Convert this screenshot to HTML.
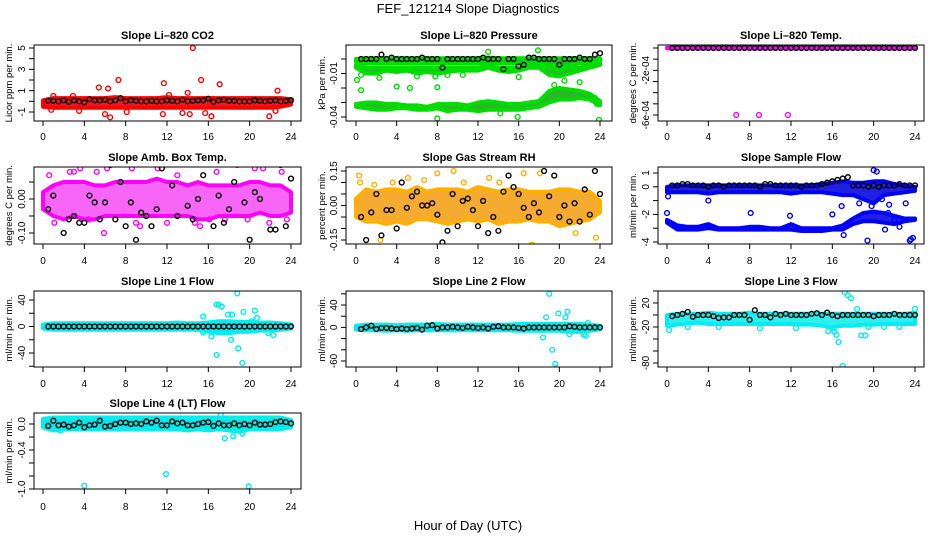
<!DOCTYPE html>
<html><head><meta charset="utf-8">
<style>
html,body{margin:0;padding:0;background:#fff;}
svg{display:block;font-family:"Liberation Sans",Arial,sans-serif;}
</style></head>
<body>
<svg id="chart" width="936" height="540" viewBox="0 0 936 540">
<text x="468" y="13" text-anchor="middle" font-size="13">FEF_121214  Slope Diagnostics</text>
<text x="468" y="530" text-anchor="middle" font-size="13">Hour of Day (UTC)</text>
</svg>
<script>
// ---------- data ----------
const bandHours = [0,1,2,3,4,5,6,7,8,9,10,11,12,13,14,15,16,17,18,19,20,21,22,23,24];

const co2Lo = [-0.5,-0.6,-0.6,-0.6,-0.6,-0.6,-0.6,-0.6,-0.6,-0.6,-0.6,-0.6,-0.6,-0.6,-0.6,-0.6,-0.6,-0.6,-0.6,-0.6,-0.6,-0.6,-0.6,-0.5,-0.3];
const co2Hi = [0.1,0.3,0.3,0.3,0.3,0.3,0.3,0.4,0.3,0.3,0.3,0.3,0.4,0.3,0.3,0.3,0.3,0.3,0.3,0.3,0.3,0.3,0.3,0.3,0.2];
const co2OutH = [5.4,6.3,7.3,11.7,14.5,15.3,17.1,22.7,6.0,6.5,11.6,16.3,21.9,22.5,14.2,8.1,1.0,2.9,14.0,15.7,13.5,12.2,0.8,3.5];
const co2OutV = [1.3,1.2,2.0,1.7,5.0,2.0,1.6,1.0,-1.2,-1.5,-1.2,-1.4,-1.4,-0.9,-1.2,-1.0,0.5,0.5,0.8,-1.1,-1.1,0.6,-0.8,-0.9];
const co2Black = [0.05,0.05,0.0,0.1,-0.05,0.1,0.0,-0.1,0.2,0.1,0.1,0.15,0.0,0.1,0.3,0.0,0.1,0.05,0.0,0.0,0.05,0.0,0.0,0.1,0.05,0.0,0.15,0.0,0.05,0.1,0.1,0.25,-0.05,0.1,0.15,0.05,0.05,0.0,0.0,0.0,0.1,0.05,0.0,0.05,0.1,0.0,0.05,0.1];

const presLo = [-0.002,-0.003,-0.003,-0.003,-0.003,-0.003,-0.003,-0.003,-0.003,-0.003,-0.003,-0.003,-0.003,-0.003,-0.003,-0.003,-0.003,-0.003,-0.003,-0.004,-0.005,-0.004,-0.003,-0.003,-0.002];
const presHi = [0.0,0.0005,0.0005,0.0005,0.0005,0.0005,0.0005,0.0005,0.0005,0.0005,0.0005,0.0005,0.0005,0.001,0.0005,0.0005,0.0005,0.0005,0.0005,0.0005,0.0005,0.0005,0.0005,0.0005,0.0005];
const presMidLo = [-0.006,-0.010,-0.010,-0.008,-0.009,-0.008,-0.010,-0.009,-0.010,-0.009,-0.008,-0.008,-0.008,-0.006,-0.008,-0.009,-0.008,-0.006,-0.006,-0.011,-0.012,-0.010,-0.008,-0.006,-0.004];
const presMidHi = [-0.004,-0.006,-0.006,-0.006,-0.006,-0.006,-0.006,-0.006,-0.006,-0.006,-0.006,-0.006,-0.006,-0.005,-0.006,-0.006,-0.006,-0.005,-0.005,-0.006,-0.007,-0.006,-0.006,-0.005,-0.003];
const pres2Lo = [-0.033,-0.034,-0.035,-0.035,-0.034,-0.034,-0.035,-0.035,-0.034,-0.036,-0.035,-0.035,-0.036,-0.035,-0.035,-0.035,-0.035,-0.034,-0.033,-0.030,-0.028,-0.028,-0.027,-0.028,-0.032];
const pres2Hi = [-0.031,-0.030,-0.030,-0.031,-0.031,-0.032,-0.032,-0.033,-0.031,-0.031,-0.031,-0.032,-0.030,-0.029,-0.030,-0.031,-0.031,-0.030,-0.029,-0.022,-0.020,-0.021,-0.022,-0.024,-0.029];
const presOutH = [0.1,0.5,0.5,2.3,8.0,8.0,14.2,15.9,23.9,17.9,4.0,5.3,7.8,11.8,13.0,19.5,20.5,22.0,23.5,23.7,16.0,9.0,6.0,10.5];
const presOutV = [-0.0145,-0.0215,-0.011,-0.013,-0.0195,-0.041,-0.0375,-0.040,-0.042,0.006,-0.019,-0.020,-0.012,-0.002,0.005,-0.018,-0.015,-0.016,-0.027,-0.031,-0.0125,-0.011,-0.012,-0.011];
const presBlack = [0.0,0.0,0.0,0.0,0.003,0.0,0.001,0.0,0.0,0.0,0.0,0.0,0.001,0.0,0.0,0.0,-0.006,0.0,0.0,0.0,0.0,0.0,0.0,0.0,0.001,0.0,0.0,0.0,-0.007,0.0,0.0,-0.005,-0.004,0.001,0.001,0.0,0.0,0.0,0.0,-0.004,0.0,0.0,0.0,0.001,0.0,0.0,0.003,0.004];

const tempLo = [-0.000002,-0.000002,-0.000002,-0.000002,-0.000002,-0.000002,-0.000002,-0.000002,-0.000002,-0.000002,-0.000002,-0.000002,-0.000002,-0.000002,-0.000002,-0.000002,-0.000002,-0.000002,-0.000002,-0.000002,-0.000002,-0.000002,-0.000002,-0.000002,-0.000002];
const tempHi = [0.000002,0.000002,0.000002,0.000002,0.000002,0.000002,0.000002,0.000002,0.000002,0.000002,0.000002,0.000002,0.000002,0.000002,0.000002,0.000002,0.000002,0.000002,0.000002,0.000002,0.000002,0.000002,0.000002,0.000002,0.000002];
const tempOutH = [6.7,8.9,11.7];
const tempOutV = [-0.0006,-0.0006,-0.0006];
const tempBlack = [0,0,0,0,0,0,0,0,0,0,0,0,0,0,0,0,0,0,0,0,0,0,0,0,0,0,0,0,0,0,0,0,0,0,0,0,0,0,0,0,0,0,0,0,0,0,0,0];

const ambLo = [-0.03,-0.05,-0.06,-0.05,-0.06,-0.06,-0.05,-0.05,-0.05,-0.05,-0.05,-0.05,-0.05,-0.05,-0.05,-0.06,-0.06,-0.05,-0.05,-0.05,-0.05,-0.04,-0.05,-0.05,-0.04];
const ambHi = [0.02,0.04,0.05,0.05,0.05,0.04,0.04,0.05,0.05,0.05,0.05,0.06,0.05,0.05,0.04,0.05,0.04,0.04,0.04,0.04,0.05,0.05,0.04,0.04,0.02];
const ambOutH = [0.1,0.9,1.7,1.1,3.0,4.4,5.9,6.2,7.2,8.6,9.4,10.0,11.1,13.5,14.7,15.2,16.1,18.8,20.5,21.9,23.1,22.5,2.6,12.0,17.6,19.8,0.6,3.6,5.2,9.0,13.0,16.8,21.3,23.6];
const ambOutV = [-0.14,0.12,0.11,-0.07,0.08,-0.06,-0.1,0.09,0.12,0.09,-0.08,0.12,0.09,0.12,-0.07,-0.08,-0.06,0.1,0.09,-0.07,0.08,0.11,0.08,-0.07,-0.06,-0.06,0.07,0.09,0.08,-0.07,0.07,0.08,0.09,-0.06];
const ambBlack = [-0.03,0.01,0.12,-0.1,-0.06,-0.05,-0.07,-0.07,0.01,-0.01,-0.06,-0.01,0.1,-0.06,0.05,-0.08,-0.01,-0.12,-0.04,-0.05,-0.08,-0.03,0.09,0.11,0.04,-0.05,0.11,-0.02,-0.06,0.0,0.07,-0.14,-0.08,0.01,-0.07,-0.03,0.05,0.11,-0.01,-0.12,0.02,0.0,0.11,-0.09,-0.09,0.1,-0.08,0.06];

const rhLo = [-0.05,-0.07,-0.07,-0.08,-0.07,-0.08,-0.06,-0.06,-0.07,-0.08,-0.07,-0.06,-0.07,-0.06,-0.08,-0.07,-0.07,-0.06,-0.07,-0.07,-0.09,-0.08,-0.07,-0.06,-0.03];
const rhHi = [0.03,0.07,0.06,0.07,0.07,0.06,0.08,0.06,0.07,0.07,0.07,0.06,0.08,0.07,0.06,0.07,0.07,0.06,0.06,0.06,0.07,0.07,0.06,0.06,0.02];
const rhOutH = [0.3,0.4,2.4,5.1,8.0,9.6,13.1,16.5,17.3,18.1,20.4,23.6,1.8,3.6,6.7,10.6,14.1,21.6];
const rhOutV = [0.13,0.1,-0.15,0.12,0.14,0.15,0.12,0.14,-0.17,0.14,-0.2,-0.14,0.09,0.1,0.11,0.1,0.1,-0.12];
const rhBlack = [-0.05,-0.15,-0.03,0.05,-0.13,-0.02,-0.02,-0.1,0.1,-0.01,0.04,0.06,0.0,0.0,0.01,-0.04,-0.16,-0.11,0.05,-0.09,0.02,0.03,-0.02,-0.09,0.02,-0.12,-0.05,-0.11,0.06,0.13,0.08,0.05,-0.01,-0.05,0.01,-0.03,0.15,0.04,0.13,-0.05,0.0,-0.07,0.01,-0.07,0.07,-0.04,0.15,0.05];

const flowLo = [-0.4,-0.4,-0.4,-0.4,-0.5,-0.4,-0.4,-0.4,-0.4,-0.4,-0.4,-0.4,-0.5,-0.4,-0.4,-0.4,-0.5,-0.6,-0.6,-0.9,-1.2,-0.6,-0.5,-0.4,-0.3];
const flowHi = [0.0,0.1,0.1,0.1,0.1,0.1,0.1,0.1,0.1,0.1,0.1,0.1,0.1,0.1,0.1,0.2,0.3,0.4,0.3,0.3,0.4,0.4,0.2,0.1,0.0];
const flow2Lo = [-2.6,-3.1,-3.1,-3.1,-3.0,-3.1,-3.1,-3.1,-3.1,-3.1,-3.1,-3.1,-3.1,-3.2,-3.2,-3.2,-3.1,-3.1,-2.7,-2.5,-2.5,-2.6,-2.7,-2.5,-2.4];
const flow2Hi = [-2.4,-2.8,-2.9,-2.9,-2.7,-3.0,-3.0,-3.0,-2.9,-2.9,-3.0,-3.0,-2.7,-3.0,-3.0,-3.0,-3.0,-2.8,-2.3,-1.9,-1.8,-1.9,-2.1,-2.3,-2.3];
const flowOutH = [0.0,0.1,4.0,8.1,11.9,16.0,16.9,17.1,19.4,20.0,20.3,21.1,21.5,22.5,23.1,23.6,23.8,23.5,18.6,19.8,20.8,22.0,21.4];
const flowOutV = [-1.9,-0.7,-1.0,-1.9,-2.1,-2.0,-1.4,-3.5,-3.9,1.2,1.1,-3.1,-1.3,-2.9,-1.2,-3.8,-3.7,-3.9,-1.2,-1.4,-0.9,-2.4,-1.9];
const flowBlack = [0.1,0.1,0.2,0.2,0.1,0.1,0.1,0.0,0.1,0.1,0.0,0.1,0.1,0.1,0.1,0.1,0.1,0.0,0.2,0.2,0.1,0.1,0.1,0.1,0.1,0.0,0.1,0.1,0.1,0.2,0.3,0.4,0.5,0.6,0.7,0.1,0.1,0.1,0.0,0.1,0.0,0.1,0.1,0.1,0.2,0.1,0.1,0.1];

const l1Lo = [-3,-5,-5,-5,-5,-5,-5,-5,-5,-5,-5,-5,-5,-5,-5,-5,-8,-10,-10,-8,-8,-6,-6,-5,-3];
const l1Hi = [3,5,5,5,5,5,5,5,5,5,5,5,5,6,5,5,6,8,8,7,7,6,6,5,3];
const l1OutH = [15.5,16.8,17.0,17.3,17.9,18.3,18.8,18.9,19.3,19.4,20.5,20.7,16.8,16.3,15.5,18.2,21.8,22.3,20.2];
const l1OutV = [15,33,33,30,18,18,50,-33,-55,22,24,13,-43,-15,-9,-20,-10,-13,8];
const l1Black = [0,0,0,0,0,0,0,0,0,0,0,0,0,0,0,0,0,0,0,0,0,0,0,0,0,0,0,0,0,0,0,0,0,0,0,0,0,0,0,0,0,0,0,0,0,0,0,0];

const l2Lo = [-4,-5,-5,-6,-5,-6,-5,-5,-5,-5,-5,-5,-5,-5,-5,-5,-6,-6,-6,-6,-6,-8,-8,-6,-3];
const l2Hi = [3,5,5,5,4,5,5,5,6,5,5,5,5,5,5,5,6,6,6,6,6,6,6,5,3];
const l2OutH = [18.4,18.7,19.0,19.3,19.6,19.9,20.6,20.8,21.0,22.4,22.6,22.8,23.0];
const l2OutV = [-18,18,60,-40,-65,25,18,28,-12,-13,-15,8,-3];
const l2Black = [-3,0,3,-3,-1,-1,-2,-3,-2,-3,-2,-1,-4,3,4,-2,0,0,1,0,-1,1,0,-1,0,-2,1,2,0,0,0,-1,-2,0,0,0,0,0,0,0,0,2,1,0,0,0,0,0];

const l3Lo = [-18,-16,-14,-13,-15,-15,-15,-15,-15,-15,-15,-15,-15,-16,-16,-18,-20,-18,-18,-16,-16,-15,-15,-15,-15];
const l3Hi = [0,2,2,2,4,2,2,2,4,2,2,2,2,2,2,2,2,2,2,2,2,2,2,2,4];
const l3OutH = [0.2,15.6,16.1,16.4,16.6,17.0,17.2,17.5,17.8,18.4,18.8,19.2,19.5,24.0,16.2,2.0,5.0,9.0,12.5,21.0,22.5];
const l3OutV = [-25,-27,-22,-33,-45,-85,38,33,28,10,-34,-34,-20,10,-28,-20,-20,-22,-22,-20,-20];
const l3Black = [-2,0,2,5,-3,0,0,0,-2,-5,-4,-4,0,0,0,-8,8,0,0,-4,2,0,2,0,0,0,0,2,3,0,4,0,-2,0,0,0,0,0,0,-2,0,0,0,2,0,0,0,0];

const l4Lo = [-0.05,-0.1,-0.08,-0.08,-0.08,-0.08,-0.08,-0.08,-0.08,-0.08,-0.08,-0.08,-0.08,-0.08,-0.1,-0.08,-0.1,-0.08,-0.1,-0.12,-0.08,-0.08,-0.08,-0.08,-0.05];
const l4Hi = [0.08,0.1,0.1,0.1,0.1,0.1,0.1,0.1,0.1,0.1,0.1,0.1,0.1,0.1,0.1,0.1,0.1,0.1,0.1,0.1,0.1,0.1,0.1,0.1,0.06];
const l4OutH = [4.0,11.9,19.9,17.6,18.4,19.3,17.2,1.7];
const l4OutV = [-0.95,-0.77,-0.96,-0.22,-0.19,-0.15,0.14,-0.1];
const l4Black = [-0.03,0.05,-0.02,-0.01,-0.04,-0.02,0.02,-0.05,-0.02,-0.01,0.05,-0.04,-0.03,0.0,0.02,0.02,0.0,0.01,0.0,0.04,0.02,0.05,-0.02,-0.02,0.04,0.01,0.02,-0.02,-0.02,0.0,0.02,0.03,-0.03,0.01,-0.02,-0.02,0.01,-0.02,0.0,-0.02,0.02,-0.01,-0.01,0.0,0.03,0.04,0.03,0.01];

// ---------- layout ----------
const panels = [
 {name:'co2',title:'Slope Li\u2013820 CO2',ylab:'Licor ppm per min.',box:[34,45,301,121],xs:[43,291],yr:[5,48,-1,112],ticks:[-1,0,1,2,3,4,5],labels:[[-1,'-1'],[1,'1'],[3,'3'],[5,'5']],col:'#ff0000',fill:'#f01818',bands:[[co2Lo,co2Hi]],oh:co2OutH,ov:co2OutV,blk:co2Black,xlab:136,ylx:8},
 {name:'pressure',title:'Slope Li\u2013820 Pressure',ylab:'kPa per min.',box:[346,45,612,121],xs:[356,600],yr:[0,59,-0.04,117],ticks:[-0.04,-0.03,-0.02,-0.01,0],labels:[[-0.01,'-0.01'],[-0.04,'-0.04']],col:'#00dd00',fill:'#28b828',bands:[[presLo,presHi],[presMidLo,presMidHi],[pres2Lo,pres2Hi]],oh:presOutH,ov:presOutV,blk:presBlack,xlab:136,ylx:321},
 {name:'temp',title:'Slope Li\u2013820 Temp.',ylab:'degrees C per min.',box:[658,45,924,121],xs:[667,915],yr:[0,48,-0.0006,115],ticks:[0,-0.0001,-0.0002,-0.0003,-0.0004,-0.0005,-0.0006],labels:[[-0.0002,'-2e-04'],[-0.0006,'-6e-04']],col:'#ff00ff',fill:'#cc22cc',bands:[[tempLo,tempHi]],oh:tempOutH,ov:tempOutV,blk:tempBlack,xlab:136,ylx:632},
 {name:'amb-box-temp',title:'Slope Amb. Box Temp.',ylab:'degrees C per min.',box:[34,167,301,244],xs:[43,291],yr:[0,199,-0.1,233],ticks:[-0.1,-0.05,0,0.05],labels:[[-0.1,'-0.10'],[0,'0.00']],col:'#ff00ff',fill:'#f866f8',bands:[[ambLo,ambHi]],oh:ambOutH,ov:ambOutV,blk:ambBlack,xlab:260,ylx:8},
 {name:'gas-stream-rh',title:'Slope Gas Stream RH',ylab:'percent per min.',box:[346,167,612,244],xs:[356,600],yr:[0.15,171,-0.15,240],ticks:[-0.15,-0.1,-0.05,0,0.05,0.1,0.15],labels:[[-0.15,'-0.15'],[0,'0.00'],[0.15,'0.15']],col:'#ffb000',fill:'#f5aa30',bands:[[rhLo,rhHi]],oh:rhOutH,ov:rhOutV,blk:rhBlack,xlab:260,ylx:321},
 {name:'sample-flow',title:'Slope Sample Flow',ylab:'ml/min per min.',box:[658,167,924,244],xs:[667,915],yr:[1,173,-4,242],ticks:[-4,-3,-2,-1,0,1],labels:[[-4,'-4'],[-2,'-2'],[0,'0'],[1,'1']],col:'#0000ff',fill:'#2020e0',bands:[[flowLo,flowHi],[flow2Lo,flow2Hi]],oh:flowOutH,ov:flowOutV,blk:flowBlack,xlab:260,ylx:632},
 {name:'line1-flow',title:'Slope Line 1 Flow',ylab:'ml/min per min.',box:[34,291,301,367],xs:[43,291],yr:[40,300,-40,353],ticks:[-60,-40,-20,0,20,40],labels:[[-40,'-40'],[0,'0'],[40,'40']],col:'#00eeee',fill:'#00e8e8',bands:[[l1Lo,l1Hi]],oh:l1OutH,ov:l1OutV,blk:l1Black,xlab:383,ylx:8},
 {name:'line2-flow',title:'Slope Line 2 Flow',ylab:'ml/min per min.',box:[346,291,612,367],xs:[356,600],yr:[40,305,-60,361],ticks:[-60,-40,-20,0,20,40,60],labels:[[-60,'-60'],[0,'0'],[40,'40']],col:'#00eeee',fill:'#00e8e8',bands:[[l2Lo,l2Hi]],oh:l2OutH,ov:l2OutV,blk:l2Black,xlab:383,ylx:321},
 {name:'line3-flow',title:'Slope Line 3 Flow',ylab:'ml/min per min.',box:[658,291,924,367],xs:[667,915],yr:[20,303,-80,363],ticks:[-80,-60,-40,-20,0,20,40],labels:[[-80,'-80'],[-20,'-20'],[20,'20']],col:'#00eeee',fill:'#30eeee',bands:[[l3Lo,l3Hi]],oh:l3OutH,ov:l3OutV,blk:l3Black,xlab:383,ylx:632},
 {name:'line4-flow',title:'Slope Line 4 (LT) Flow',ylab:'ml/min per min.',box:[34,413,301,489],xs:[43,291],yr:[0,424,-1,489],ticks:[-1,-0.8,-0.6,-0.4,-0.2,0],labels:[[-1,'-1.0'],[-0.4,'-0.4'],[0,'0.0']],col:'#00eeee',fill:'#00e8e8',bands:[[l4Lo,l4Hi]],oh:l4OutH,ov:l4OutV,blk:l4Black,xlab:506,ylx:8}
];
const xTicks = [0,4,8,12,16,20,24];

const NS='http://www.w3.org/2000/svg';
const svg=document.getElementById('chart');
function mk(tag,attrs,parent){const e=document.createElementNS(NS,tag);for(const k in attrs)e.setAttribute(k,attrs[k]);(parent||svg).appendChild(e);return e;}

panels.forEach(p=>{
  const g=mk('g',{});
  
  
  const [L,T,R,B]=p.box;
  const xf=h=>p.xs[0]+h*(p.xs[1]-p.xs[0])/24;
  const yf=v=>p.yr[1]+(v-p.yr[0])*(p.yr[3]-p.yr[1])/(p.yr[2]-p.yr[0]);
  const clip=mk('clipPath',{id:'c-'+p.name},g);
  mk('rect',{x:L,y:T,width:R-L,height:B-T},clip);
  const data=mk('g',{'clip-path':'url(#c-'+p.name+')'},g);
  p.bands.forEach(([lo,hi])=>{
    let pts=bandHours.map((h,i)=>xf(h).toFixed(1)+','+yf(hi[i]).toFixed(1));
    pts=pts.concat(bandHours.slice().reverse().map((h,j)=>{const i=bandHours.length-1-j;return xf(h).toFixed(1)+','+yf(lo[i]).toFixed(1);}));
    const poly=mk('polygon',{points:pts.join(' '),fill:p.fill,stroke:p.col,'stroke-width':4,'stroke-linejoin':'round'},data);
    
    
  });
  p.oh.forEach((h,i)=>{
    const c=mk('circle',{cx:xf(h),cy:yf(p.ov[i]),r:2.4,fill:'none',stroke:p.col,'stroke-width':1.4},data);
    
    
  });
  p.blk.forEach((v,i)=>{
    const c=mk('circle',{cx:xf((i+1)*0.5),cy:yf(v),r:2.4,fill:'none',stroke:'#000','stroke-width':1.4},data);
    
    
  });
  const bx=mk('rect',{x:L,y:T,width:R-L,height:B-T,fill:'none',stroke:'#000','stroke-width':1},g);
  
  
  const t=mk('text',{x:(L+R)/2,y:T-6,'text-anchor':'middle','font-size':11,'font-weight':'bold'},g);
  t.textContent=p.title;
  
  
  mk('line',{x1:xf(0),x2:xf(24),y1:B,y2:B,stroke:'#000'},g);
  xTicks.forEach(h=>{
    mk('line',{x1:xf(h),x2:xf(h),y1:B,y2:B+5,stroke:'#000'},g);
    const tl=mk('text',{x:xf(h),y:p.xlab+4,'text-anchor':'middle','font-size':10},g);
    tl.textContent=h;
    
    
  });
  const ys=p.ticks.map(yf);
  mk('line',{x1:L,x2:L,y1:Math.min(...ys),y2:Math.max(...ys),stroke:'#000'},g);
  ys.forEach(y=>mk('line',{x1:L-5,x2:L,y1:y,y2:y,stroke:'#000'},g));
  p.labels.forEach(([v,s])=>{
    const y=yf(v),x=L-9;
    const tl=mk('text',{x:x,y:y,'text-anchor':'middle','font-size':10,transform:'rotate(-90 '+x+' '+y+')'},g);
    tl.textContent=s;
    
    
  });
  const cy=(T+B)/2;
  const yl=mk('text',{x:p.ylx+4,y:cy,'text-anchor':'middle','font-size':9.5,transform:'rotate(-90 '+(p.ylx+4)+' '+cy+')'},g);
  yl.textContent=p.ylab;
  
  
});
</script>
</body></html>
